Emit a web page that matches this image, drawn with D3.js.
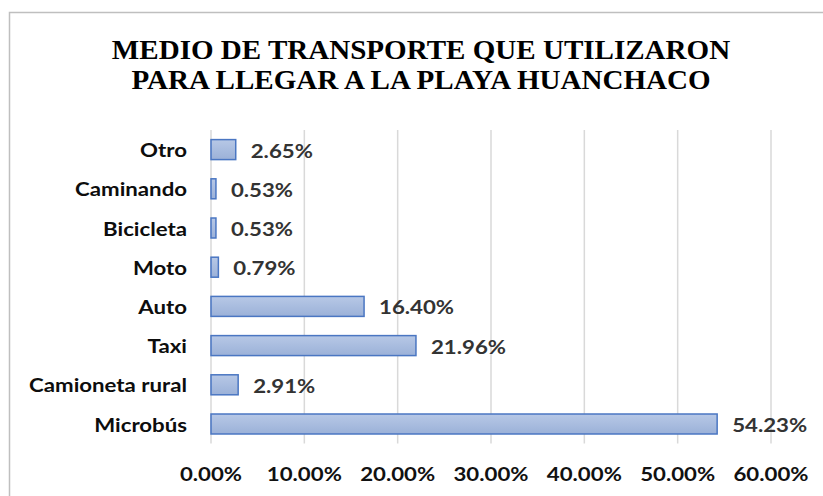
<!DOCTYPE html>
<html>
<head>
<meta charset="utf-8">
<script src="https://cdn.jsdelivr.net/npm/d3@7"></script>
<style>
  body { margin: 0; background: #fff; }
  svg { display: block; }
</style>
</head>
<body>
<div id="chart"></div>
<script>
// Data
const categories = ["Otro", "Caminando", "Bicicleta", "Moto", "Auto", "Taxi", "Camioneta rural", "Microbús"];
const values = [2.65, 0.53, 0.53, 0.79, 16.40, 21.96, 2.91, 54.23];
const ticks = [0, 10, 20, 30, 40, 50, 60];
const titleLines = ["MEDIO DE TRANSPORTE QUE UTILIZARON", "PARA LLEGAR A LA PLAYA HUANCHACO"];

const width = 823, height = 496;
const margin = { top: 130, left: 211, bottom: 443.6 };
const stretch = 1.14; // the reference text is a bit wide

const svg = d3.select("#chart").append("svg")
    .attr("width", width)
    .attr("height", height);

// bar gradient
const grad = svg.append("defs").append("linearGradient")
    .attr("id", "barFill")
    .attr("x1", 0).attr("y1", 0).attr("x2", 0).attr("y2", 1);
grad.append("stop").attr("offset", "0%").attr("stop-color", "#b7c8e6");
grad.append("stop").attr("offset", "100%").attr("stop-color", "#9bb1d8");

// outer chart border
svg.append("rect")
    .attr("x", 9.5).attr("y", 12.5)
    .attr("width", width).attr("height", height)
    .attr("fill", "none")
    .attr("stroke", "#bfbfbf")
    .attr("stroke-width", 1.5);

const labelFont = "Lato, 'Open Sans', sans-serif";

// title
svg.append("g").selectAll("text")
    .data(titleLines)
    .join("text")
    .attr("transform", (d, i) => `translate(421,${59 + i * 30}) scale(1.097,1)`)
    .attr("text-anchor", "middle")
    .attr("font-family", "'Liberation Serif', 'Times New Roman', serif")
    .attr("font-weight", "bold")
    .attr("font-size", 26.5)
    .attr("fill", "#000")
    .text(d => d);

const x = d3.scaleLinear()
    .domain([0, 60])
    .range([margin.left, margin.left + 560]);

const y = d3.scaleBand()
    .domain(categories)
    .range([margin.top, margin.bottom])
    .paddingInner(0.49)
    .paddingOuter(0.245);

// gridlines
svg.append("g").selectAll("line")
    .data(ticks)
    .join("line")
    .attr("x1", d => x(d)).attr("x2", d => x(d))
    .attr("y1", margin.top).attr("y2", margin.bottom)
    .attr("stroke", "#d9d9d9")
    .attr("stroke-width", 1.5);

// x tick labels
svg.append("g").selectAll("text")
    .data(ticks)
    .join("text")
    .attr("transform", d => `translate(${x(d)},481) scale(${stretch},1)`)
    .attr("text-anchor", "middle")
    .attr("font-family", labelFont)
    .attr("font-weight", "bold")
    .attr("font-size", 19.5)
    .attr("fill", "#111")
    .text(d => d.toFixed(2) + "%");

// bars
svg.append("g").selectAll("rect")
    .data(values)
    .join("rect")
    .attr("x", x(0))
    .attr("y", (d, i) => y(categories[i]))
    .attr("width", d => x(d) - x(0))
    .attr("height", y.bandwidth())
    .attr("fill", "url(#barFill)")
    .attr("stroke", "#4a76c2")
    .attr("stroke-width", 1.5);

// category labels
svg.append("g").selectAll("text")
    .data(categories)
    .join("text")
    .attr("transform", d => `translate(187,${y(d) + y.bandwidth() / 2 + 7.5}) scale(${stretch},1)`)
    .attr("text-anchor", "end")
    .attr("font-family", labelFont)
    .attr("font-weight", "bold")
    .attr("font-size", 19.5)
    .attr("fill", "#0d0d0d")
    .text(d => d);

// value labels
svg.append("g").selectAll("text")
    .data(values)
    .join("text")
    .attr("transform", (d, i) => `translate(${x(d) + 15},${y(categories[i]) + y.bandwidth() / 2 + 8}) scale(${stretch},1)`)
    .attr("font-family", labelFont)
    .attr("font-weight", "bold")
    .attr("font-size", 19.5)
    .attr("fill", "#333")
    .text(d => d.toFixed(2) + "%");
</script>
</body>
</html>
